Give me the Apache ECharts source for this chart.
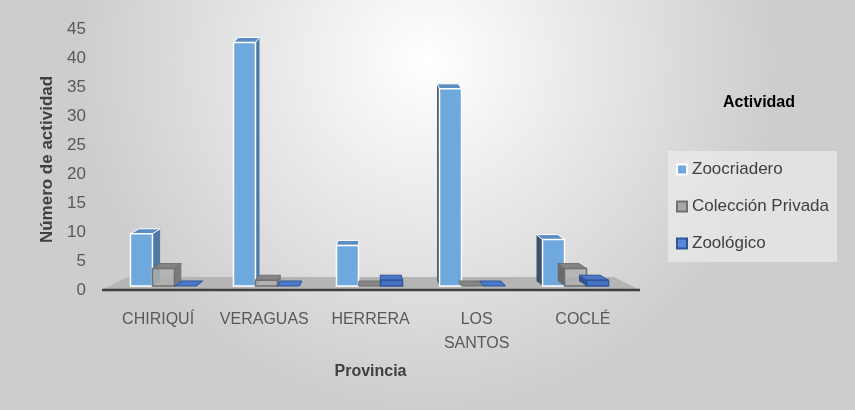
<!DOCTYPE html>
<html>
<head>
<meta charset="utf-8">
<script src="https://cdn.jsdelivr.net/npm/echarts@6/dist/echarts.min.js"></script>
<style>
  html, body { margin: 0; padding: 0; }
  #chart { width: 855px; height: 410px; }
</style>
</head>
<body>
<div id="chart"></div>
<script>
var provincias = ['CHIRIQUÍ', 'VERAGUAS', 'HERRERA', 'LOS\nSANTOS', 'COCLÉ'];
var zoocriadero = [9, 42, 7, 34, 8];
var coleccion = [3, 1, 0, 0, 3];
var zoologico = [0, 0, 1, 0, 1];
var yTicks = [0, 5, 10, 15, 20, 25, 30, 35, 40, 45];

var BW = 22;      // ancho de la cara frontal
var DEPTH = 0.035; // factor de perspectiva
var DY = -5;

var estilos = [
    { front: '#6fa8dc', stroke: '#ffffff', top: '#5b8dc2', sideR: '#4d79a4', sideL: '#3b536b' },
    { front: 'rgba(175,175,175,0.85)', stroke: '#707070', top: '#858585', sideR: '#7a7a7a', sideL: '#6a6a6a' },
    { front: '#4472c4', stroke: '#2f5597', top: '#4b79c9', sideR: '#3a62a8', sideL: '#33558f' }
];

function pts(arr) { return { points: arr }; }

function barRenderer(idx) {
    var st = estilos[idx];
    return function (params, api) {
        var ci = api.value(0), v = api.value(1);
        var cs = params.coordSys;
        var vpx = cs.x + cs.width / 2;
        var c = api.coord([ci, 0]);
        var t = api.coord([ci, v]);
        var cx = c[0];
        var left = cx - 34 - 0.03 * (cx - vpx) + idx * BW;
        var right = left + BW;
        var baseY = c[1] - 4;
        var topY = t[1] - 4;
        var dxL = (vpx - left) * DEPTH;
        var dxR = (vpx - right) * DEPTH;
        var children = [];
        if (dxR > 0.5) {
            children.push({ type: 'polygon', shape: pts([[right, topY], [right + dxR, topY + DY], [right + dxR, baseY + DY], [right, baseY]]),
                style: { fill: st.sideR } });
        }
        if (dxL < -0.5) {
            children.push({ type: 'polygon', shape: pts([[left, topY], [left + dxL, topY + DY], [left + dxL, baseY + DY], [left, baseY]]),
                style: { fill: st.sideL } });
        }
        children.push({ type: 'polygon', shape: pts([[left, topY], [right, topY], [right + dxR, topY + DY], [left + dxL, topY + DY]]),
            style: { fill: st.top, stroke: st.stroke, lineWidth: 1 } });
        if (v > 0) {
            children.push({ type: 'rect', shape: { x: left, y: topY, width: BW, height: baseY - topY },
                style: { fill: st.front, stroke: st.stroke, lineWidth: 1.5 } });
        }
        return { type: 'group', children: children };
    };
}

function floorRenderer(params, api) {
    var cs = params.coordSys;
    var y0 = api.coord([0, 0])[1];
    var x0 = cs.x, x1 = cs.x + cs.width;
    return {
        type: 'group',
        children: [
            { type: 'polygon', shape: pts([[x0 - 3, y0], [x1 + 4, y0], [x1 - 22, y0 - 13], [x0 + 23, y0 - 13]]),
              style: { fill: '#b5b5b5' } },
            { type: 'line', shape: { x1: x0 - 3, y1: y0, x2: x1 + 4, y2: y0 },
              style: { stroke: '#404040', lineWidth: 2.5 } }
        ]
    };
}

function toData(arr) {
    return arr.map(function (v, i) { return [i, v]; });
}

var chartDom = document.getElementById('chart');
var myChart = echarts.init(chartDom);

var option = {
    backgroundColor: {
        type: 'radial', x: 0.5, y: 0.15, r: 0.85,
        colorStops: [{ offset: 0, color: '#ffffff' }, { offset: 1, color: '#cdcdcd' }]
    },
    textStyle: { fontFamily: 'Liberation Sans, Arial, sans-serif' },
    title: {
        text: 'Actividad',
        left: 718, top: 90,
        textStyle: { fontSize: 16, fontWeight: 'bold', color: '#000' }
    },
    legend: {
        data: ['Zoocriadero', 'Colección Privada', 'Zoológico'],
        orient: 'vertical',
        left: 668, top: 151,
        padding: [10, 8, 10, 8],
        itemGap: 20,
        itemWidth: 10, itemHeight: 10,
        icon: 'rect',
        backgroundColor: 'rgba(240,240,240,0.6)',
        textStyle: { fontSize: 17, color: '#404040' }
    },
    grid: { left: 105, right: 219, top: 29, bottom: 120 },
    xAxis: {
        type: 'category',
        data: provincias,
        name: 'Provincia',
        nameLocation: 'middle',
        nameGap: 74,
        nameTextStyle: { fontSize: 16, fontWeight: 'bold', color: '#404040' },
        axisLine: { show: false },
        axisTick: { show: false },
        axisLabel: { fontSize: 16, color: '#595959', margin: 18, lineHeight: 24, interval: 0 }
    },
    yAxis: {
        type: 'value',
        min: yTicks[0], max: yTicks[yTicks.length - 1], interval: 5,
        name: 'Número de actividad',
        nameLocation: 'middle',
        nameGap: 49,
        nameTextStyle: { fontSize: 17, fontWeight: 'bold', color: '#404040' },
        axisLine: { show: false },
        axisTick: { show: false },
        splitLine: { show: false },
        axisLabel: { fontSize: 17, color: '#595959', margin: 19 }
    },
    series: [
        { type: 'custom', silent: true, clip: false, renderItem: floorRenderer, data: [[0, 0]], z: 1 },
        { name: 'Zoocriadero', type: 'custom', clip: false, renderItem: barRenderer(0), data: toData(zoocriadero),
          encode: { x: 0, y: 1 }, itemStyle: { color: '#6fa8dc', borderColor: '#ffffff', borderWidth: 1 }, z: 3 },
        { name: 'Colección Privada', type: 'custom', clip: false, renderItem: barRenderer(1), data: toData(coleccion),
          encode: { x: 0, y: 1 }, itemStyle: { color: '#a8a8a8', borderColor: '#707070', borderWidth: 2 }, z: 3 },
        { name: 'Zoológico', type: 'custom', clip: false, renderItem: barRenderer(2), data: toData(zoologico),
          encode: { x: 0, y: 1 }, itemStyle: { color: '#5b87d6', borderColor: '#2f5597', borderWidth: 2 }, z: 3 }
    ]
};
option && myChart.setOption(option);
</script>
</body>
</html>
